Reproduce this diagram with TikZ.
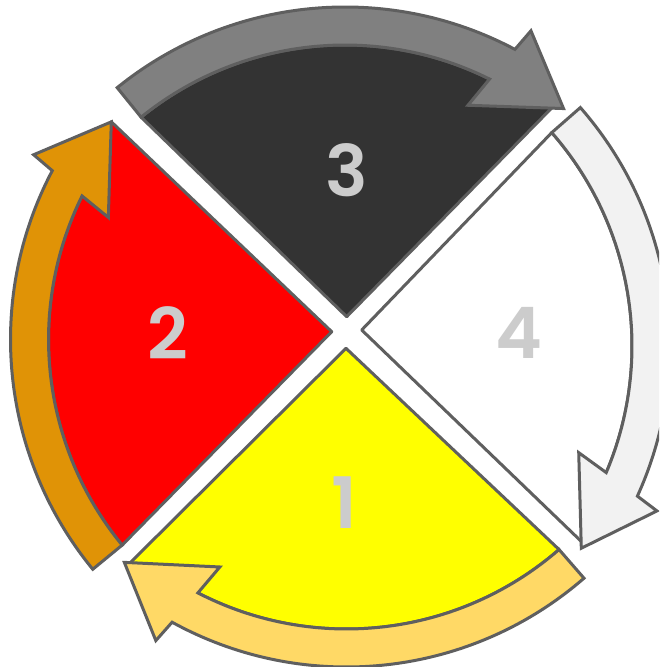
\documentclass[tikz,border=0pt]{standalone}
\usepackage{fontspec}
\newfontfamily\numfont{Poppins SemiBold}
\definecolor{rim}{RGB}{95,95,95}
\definecolor{darkpart}{RGB}{51,51,51}
\definecolor{redpart}{RGB}{255,0,0}
\definecolor{yellowpart}{RGB}{255,255,0}
\definecolor{whitepart}{RGB}{255,255,255}
\definecolor{grayarrow}{RGB}{128,128,128}
\definecolor{orangearrow}{RGB}{224,147,6}
\definecolor{goldarrow}{RGB}{255,217,102}
\definecolor{whitearrow}{RGB}{242,242,242}
\definecolor{numgray}{RGB}{204,204,204}
\begin{document}
\begin{tikzpicture}[x=1pt, y=1pt,
    part/.style={draw=rim, line width=3pt, line join=round},
    band/.style={draw=rim, line width=3pt, line join=miter},
    num/.style={text=numgray, inner sep=0pt,
      font=\numfont\fontsize{71}{71}\selectfont}]
  \useasboundingbox (-340.5,-330) rectangle (318.5,337);
  \clip (-340.5,-330) rectangle (318.5,337);
  % the four parts
  \foreach \cx/\cy/\ax/\ay/\t/\e/\px/\py/\col in {
      4.5/-32/1.7/52.3/129/62/212.2/266.6/darkpart,
      32/-2.5/-40.8/7.8/219.4/152.2/-261.2/217.7/redpart,
      6/32/-0.5/-43.3/311/241.2/-218.96/-260.4/yellowpart,
      -32.5/-9/53.7/16/41.2/-24.5/274.1/-196.2/whitepart}
    \filldraw[part, fill=\col, shift={(\cx,\cy)}] (\ax,\ay) -- (\t:324)
      arc[start angle=\t, end angle=\e, radius=324] -- (\px,\py) -- cycle;
  % the four arrows
  \foreach \cx/\cy/\t/\h/\col in {
      4.5/-32/129/50/grayarrow,
      32/-2.5/219.4/140.2/orangearrow,
      6/32/311/229.2/goldarrow,
      -32.5/-9/41.2/-36.5/whitearrow}
    \filldraw[band, fill=\col, shift={(\cx,\cy)}] (\t:324) -- (\t:362)
      arc[start angle=\t, end angle=\h+12, radius=362] -- (\h+11.2:386)
      -- (\h:340) -- (\h+15:291) -- (\h+13.5:324)
      arc[start angle=\h+13.5, end angle=\t, radius=324] -- cycle;
  \node[num] (n3) at (6.2,167) {3};
  \node[num] (n2) at (-172.5,4) {2};
  \node[num] (n4) at (178.5,4) {4};
  \node[num] (n1) at (4,-166) {1};
\end{tikzpicture}
\end{document}
